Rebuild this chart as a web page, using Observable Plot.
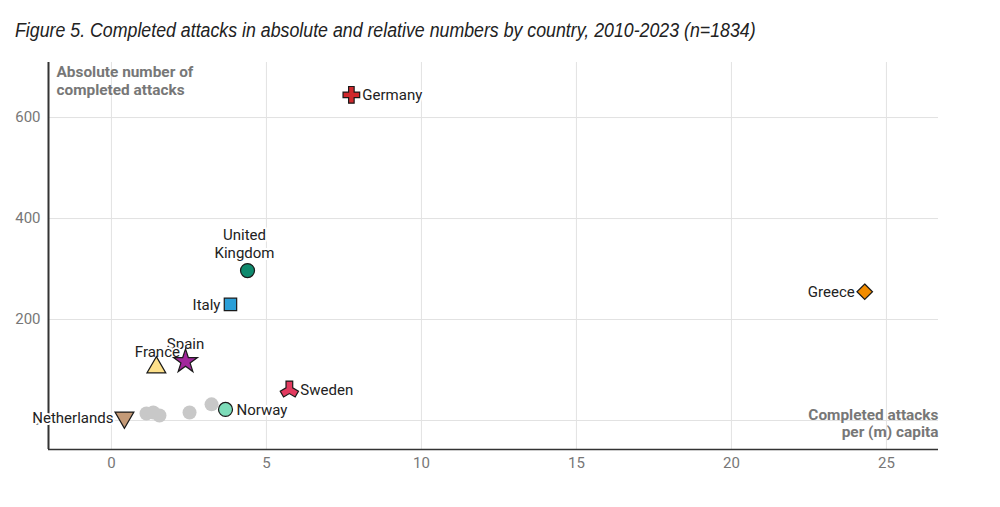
<!DOCTYPE html>
<html>
<head>
<meta charset="utf-8">
<script src="https://cdn.jsdelivr.net/npm/d3@7"></script>
<script src="https://cdn.jsdelivr.net/npm/@observablehq/plot@0.6"></script>
<style>
  html, body { margin: 0; padding: 0; background: #fff; }
  #wrap { position: relative; width: 1000px; height: 507px; overflow: hidden; }
  #title { position: absolute; left: 15px; top: 19px; font-family: "Liberation Sans", sans-serif; font-style: italic; font-size: 20px; color: #222; white-space: nowrap; transform: scaleX(0.888); transform-origin: left center; }
  #chart { position: absolute; left: 0; top: 55px; }
</style>
</head>
<body>
<div id="wrap">
  <div id="title">Figure 5. Completed attacks in absolute and relative numbers by country, 2010-2023 (n=1834)</div>
  <div id="chart"></div>
</div>
<script>
// Named countries
const countries = ["Germany", "Greece", "United Kingdom", "Italy", "Spain", "France", "Sweden", "Norway", "Netherlands"];
const perCapita = [7.74, 24.3, 4.39, 3.84, 2.39, 1.45, 5.74, 3.68, 0.42];
const attacks   = [645, 255, 297, 230, 117, 105, 61, 22, 6];
const labels    = ["Germany", "Greece", "United\nKingdom", "Italy", "Spain", "France", "Sweden", "Norway", "Netherlands"];

// Other (unlabelled) countries
const otherPerCapita = [1.13, 1.35, 1.55, 2.52, 3.23];
const otherAttacks   = [14, 16, 10, 16, 32];

// Ticks
const xTicks = [0, 5, 10, 15, 20, 25];
const yTicks = [0, 200, 400, 600];

const rows = countries.map((c, i) => ({country: c, x: perCapita[i], y: attacks[i], label: labels[i]}));
const others = otherPerCapita.map((x, i) => ({x, y: otherAttacks[i]}));

// styling/layout (not data)
const colorRange = ["#d0282c", "#f28c00", "#0f8a6e", "#2a9fd8", "#a2269c", "#fde08a", "#e23a5f", "#7ddcb9", "#c49a77"];
const symbolRange = ["cross", "diamond2", "circle", "square", "star", "triangle", "wye", "circle", "triangle"];
const rotation = {"Netherlands": 180, "Sweden": 180};
const place = {
  "Germany":        {dx: 11, dy: 0, anchor: "start"},
  "Greece":         {dx: -10, dy: 0, anchor: "end"},
  "United Kingdom": {dx: -3, dy: -27, anchor: "middle"},
  "Italy":          {dx: -10, dy: 0, anchor: "end"},
  "Spain":          {dx: 0, dy: -18, anchor: "middle"},
  "France":         {dx: 1, dy: -16, anchor: "middle"},
  "Sweden":         {dx: 11, dy: 0, anchor: "start"},
  "Norway":         {dx: 11, dy: 0, anchor: "start"},
  "Netherlands":    {dx: -11, dy: 0, anchor: "end"}
};

const labelMarks = rows.map(r => Plot.text([r], {
  x: "x", y: "y", text: "label",
  dx: place[r.country].dx, dy: place[r.country].dy,
  textAnchor: place[r.country].anchor,
  fontSize: 15, fill: "#222", stroke: "white", strokeWidth: 4, lineHeight: 1.15
}));

const dotMarks = rows.map(r => Plot.dot([r], {
  x: "x", y: "y", fill: "country", symbol: "country",
  r: r.country === "Spain" ? 7.5 : 7,
  rotate: rotation[r.country] || 0,
  stroke: "#1a1a1a", strokeWidth: 1.2
}));

const chart = Plot.plot({
  width: 1000,
  height: 452,
  marginLeft: 48,
  marginRight: 62,
  marginTop: 7,
  marginBottom: 58,
  style: {fontFamily: "Roboto, sans-serif", fontSize: "15px", background: "white"},
  x: {domain: [-2.03, 26.68]},
  y: {domain: [-57.4, 709]},
  color: {domain: countries, range: colorRange},
  symbol: {domain: countries, range: symbolRange},
  marks: [
    Plot.gridX(xTicks, {stroke: "#e2e2e2", strokeOpacity: 1, strokeWidth: 1}),
    Plot.gridY(yTicks, {stroke: "#e2e2e2", strokeOpacity: 1, strokeWidth: 1}),
    Plot.axisX(xTicks, {tickSize: 0, tickPadding: 8, fill: "#777", fontSize: 15, label: null}),
    Plot.axisY(yTicks, {tickSize: 0, tickPadding: 8, fill: "#777", fontSize: 15, label: null}),
    Plot.ruleX([-2.03], {stroke: "#333", strokeWidth: 2}),
    Plot.ruleY([-57.4], {stroke: "#333", strokeWidth: 1.5}),
    Plot.text(["Absolute number of\ncompleted attacks"], {frameAnchor: "top-left", dx: 8, dy: 1.5, fontSize: 15.4, fontWeight: "bold", fill: "#777", lineHeight: 1.17}),
    Plot.text(["Completed attacks\nper (m) capita"], {frameAnchor: "bottom-right", dx: 0, dy: -12.5, fontSize: 15.4, fontWeight: "bold", fill: "#777", lineHeight: 1.12}),
    Plot.dot(others, {x: "x", y: "y", r: 7, fill: "#c8c8c8"}),
    ...labelMarks,
    ...dotMarks
  ]
});
document.getElementById("chart").appendChild(chart);
</script>
</body>
</html>
